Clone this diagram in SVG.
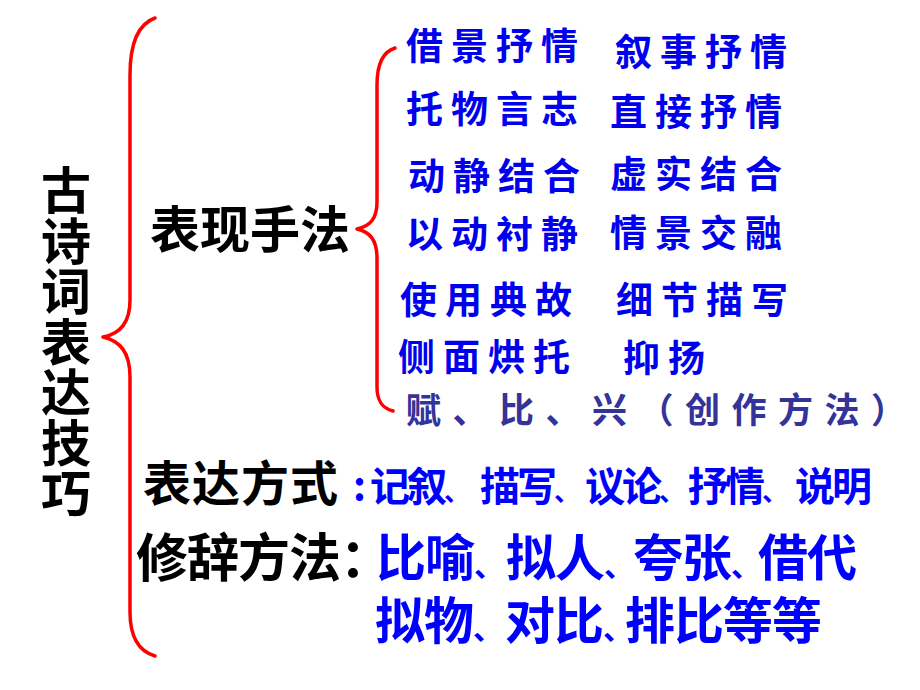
<svg xmlns="http://www.w3.org/2000/svg" width="920" height="690" viewBox="0 0 920 690">
<style>
.t { font-family: "Noto Sans CJK SC", "Noto Sans", sans-serif; }
.blk { fill: #000000; font-weight: 700; }
.kai { fill: #0000EE; font-size: 37px; letter-spacing: 8px; font-weight: 700; }
.navy { fill: #333399; font-size: 35px; letter-spacing: 11.5px; font-weight: 700; }
.blue { fill: #0000FF; font-weight: 700; }
.mid { font-size: 40px; letter-spacing: -3px; }
.big { font-size: 50px; letter-spacing: -1px; }
.dun { font-size: 30px; letter-spacing: -5px; }
.dun2 { font-size: 26px; letter-spacing: -4px; }
.colon { letter-spacing: -20px; }
.brace { fill: none; stroke: #FF0000; stroke-width: 3.5; stroke-linecap: round; stroke-linejoin: round; }
</style>
<rect width="920" height="690" fill="#FFFFFF"/>
<g id="connectors">
  <path class="brace" d="M155,18 C138,24 130,45 130,75 L130,300 C130,322 120,334 103,337 C120,341 130,352 130,377 L130,612 C130,637 138,651 155,656"/>
  <path class="brace" d="M395,48 C382,52 377,65 377,85 L377,202 C377,219 370,226 357,229 C370,232 377,240 377,258 L377,387 C377,401 382,408 393,411"/>
</g>
<g id="title">
  <text class="t blk" x="66" y="165" font-size="50" letter-spacing="0.5" writing-mode="vertical-rl">古诗词表达技巧</text>
</g>
<g id="biaoxian">
  <text class="t blk" x="150" y="248" font-size="50">表现手法</text>
</g>
<g id="techniques">
  <text class="t kai" x="406" y="60">借景抒情</text>
  <text class="t kai" x="615" y="66">叙事抒情</text>
  <text class="t kai" x="406" y="123">托物言志</text>
  <text class="t kai" x="610" y="126">直接抒情</text>
  <text class="t kai" x="408" y="190">动静结合</text>
  <text class="t kai" x="610" y="188">虚实结合</text>
  <text class="t kai" x="406" y="248">以动衬静</text>
  <text class="t kai" x="610" y="247">情景交融</text>
  <text class="t kai" x="400" y="314">使用典故</text>
  <text class="t kai" x="616" y="314">细节描写</text>
  <text class="t kai" x="398" y="371">侧面烘托</text>
  <text class="t kai" x="623" y="372">抑扬</text>
  <text class="t navy" x="406" y="423">赋、比、兴（创作方法）</text>
</g>
<g id="biaoda">
  <text class="t blk" x="143" y="501" font-size="48" letter-spacing="1">表达方式</text>
  <text class="t blue" x="353" y="500" font-size="40">:</text>
  <text class="t blue mid" x="370" y="501">记叙<tspan class="dun2">、</tspan></text>
  <text class="t blue mid" x="480" y="501">描写<tspan class="dun2">、</tspan></text>
  <text class="t blue mid" x="585" y="501">议论<tspan class="dun2">、</tspan></text>
  <text class="t blue mid" x="688" y="501">抒情<tspan class="dun2">、</tspan></text>
  <text class="t blue mid" x="795" y="501">说明</text>
</g>
<g id="xiuci">
  <text class="t blk" x="136" y="577" font-size="52" letter-spacing="-1">修辞方法<tspan class="colon">：</tspan></text>
  <text class="t blue big" x="376" y="576">比喻<tspan class="dun">、</tspan></text>
  <text class="t blue big" x="506" y="576">拟人<tspan class="dun">、</tspan></text>
  <text class="t blue big" x="633" y="576">夸张<tspan class="dun">、</tspan></text>
  <text class="t blue big" x="758" y="576">借代</text>
  <text class="t blue big" x="375" y="639">拟物<tspan class="dun">、</tspan></text>
  <text class="t blue big" x="505" y="639">对比<tspan class="dun">、</tspan></text>
  <text class="t blue big" x="625" y="639">排比等等</text>
</g>
</svg>
